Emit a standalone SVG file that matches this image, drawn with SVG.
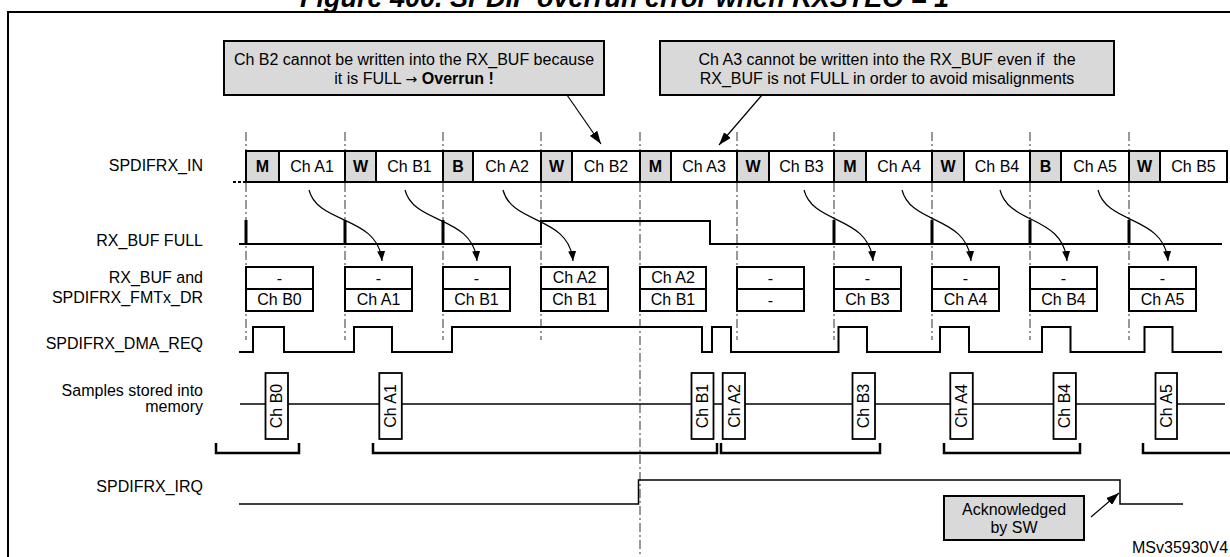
<svg xmlns="http://www.w3.org/2000/svg" width="1230" height="557" viewBox="0 0 1230 557">
<style>
text{font-family:"Liberation Sans",Arial,sans-serif;font-size:16px;fill:#000}
.end{text-anchor:end}
.mid{text-anchor:middle}
.b{font-weight:bold}
.cell{fill:#fff;stroke:#000;stroke-width:2}
.pre{fill:#d9d9d9;stroke:#000;stroke-width:2}
.sig{fill:none;stroke:#000;stroke-width:2}
.thin{fill:none;stroke:#000;stroke-width:1.5}
.spike{stroke:#000;stroke-width:3}
.dash{stroke:#555;stroke-width:1.2;stroke-dasharray:9 3 2 3;fill:none}
.call{fill:#d9d9d9;stroke:#000;stroke-width:2}
.arr{fill:none;stroke:#000;stroke-width:1.2}
.brk{fill:none;stroke:#000;stroke-width:2.5}
.sbox{fill:#fff;stroke:#000;stroke-width:1.8}
</style>
<defs>
<marker id="ah" viewBox="0 0 10 8" refX="10" refY="4" markerWidth="10" markerHeight="8" orient="auto" markerUnits="userSpaceOnUse"><path d="M0,0 L10,4 L0,8 z" fill="#000"/></marker>
<marker id="ahL" viewBox="0 0 13 9" refX="13" refY="4.5" markerWidth="13" markerHeight="9" orient="auto" markerUnits="userSpaceOnUse"><path d="M0,0 L13,4.5 L0,9 z" fill="#000"/></marker>
</defs>
<rect width="1230" height="557" fill="#fff"/>
<text x="300" y="7" style="font-size:27px;font-weight:bold;font-style:italic">Figure 400. SPDIF overrun error when RXSTEO = 1</text>
<path d="M8,560 V12 H1232" fill="none" stroke="#000" stroke-width="2"/>

<g id="gridlines">
<path class="dash" d="M246,132 V340 M345,132 V340 M443,132 V340 M541,132 V340 M737,132 V340 M834,132 V340 M932,132 V340 M1030,132 V340 M1129,132 V340 M640,132 V557"/>
</g>

<g id="labels">
<text class="end" x="203" y="171">SPDIFRX_IN</text>
<text class="end" x="203" y="246">RX_BUF FULL</text>
<text class="end" x="203" y="283">RX_BUF and</text>
<text class="end" x="203" y="303">SPDIFRX_FMTx_DR</text>
<text class="end" x="203" y="349">SPDIFRX_DMA_REQ</text>
<text class="end" x="203" y="396">Samples stored into</text>
<text class="end" x="203" y="412">memory</text>
<text class="end" x="203" y="492">SPDIFRX_IRQ</text>
</g>

<g id="spdifrx_in">
<line x1="233" y1="182" x2="246" y2="182" stroke="#000" stroke-width="2" stroke-dasharray="3 2"/>
<rect class="pre" x="246" y="151" width="33" height="31"/><text class="mid b" x="262.5" y="172">M</text>
<rect class="cell" x="279" y="151" width="66" height="31"/><text class="mid" x="312" y="172">Ch A1</text>
<rect class="pre" x="345" y="151" width="31" height="31"/><text class="mid b" x="360.5" y="172">W</text>
<rect class="cell" x="376" y="151" width="67" height="31"/><text class="mid" x="409.5" y="172">Ch B1</text>
<rect class="pre" x="443" y="151" width="30" height="31"/><text class="mid b" x="458" y="172">B</text>
<rect class="cell" x="473" y="151" width="68" height="31"/><text class="mid" x="507" y="172">Ch A2</text>
<rect class="pre" x="541" y="151" width="31" height="31"/><text class="mid b" x="556.5" y="172">W</text>
<rect class="cell" x="572" y="151" width="68" height="31"/><text class="mid" x="606" y="172">Ch B2</text>
<rect class="pre" x="640" y="151" width="31" height="31"/><text class="mid b" x="655.5" y="172">M</text>
<rect class="cell" x="671" y="151" width="66" height="31"/><text class="mid" x="704" y="172">Ch A3</text>
<rect class="pre" x="737" y="151" width="32" height="31"/><text class="mid b" x="753" y="172">W</text>
<rect class="cell" x="769" y="151" width="65" height="31"/><text class="mid" x="801.5" y="172">Ch B3</text>
<rect class="pre" x="834" y="151" width="32" height="31"/><text class="mid b" x="850" y="172">M</text>
<rect class="cell" x="866" y="151" width="66" height="31"/><text class="mid" x="899" y="172">Ch A4</text>
<rect class="pre" x="932" y="151" width="32" height="31"/><text class="mid b" x="948" y="172">W</text>
<rect class="cell" x="964" y="151" width="66" height="31"/><text class="mid" x="997" y="172">Ch B4</text>
<rect class="pre" x="1030" y="151" width="31" height="31"/><text class="mid b" x="1045.5" y="172">B</text>
<rect class="cell" x="1061" y="151" width="68" height="31"/><text class="mid" x="1095" y="172">Ch A5</text>
<rect class="pre" x="1129" y="151" width="31" height="31"/><text class="mid b" x="1144.5" y="172">W</text>
<rect class="cell" x="1160" y="151" width="67" height="31"/><text class="mid" x="1193.5" y="172">Ch B5</text>
</g>

<g id="rx_buf_full">
<path class="sig" d="M239,244 H541 V221 H710 V244 H1222"/>
<path class="spike" d="M246,244 V220 M345,244 V220 M443,244 V220 M834,244 V220 M932,244 V220 M1030,244 V220 M1129,244 V220"/>
</g>

<g id="rx_buf">
<g><rect class="cell" x="246" y="267" width="67" height="44"/><line x1="246" y1="289" x2="313" y2="289" stroke="#000" stroke-width="2"/><text class="mid" x="279.5" y="284">-</text><text class="mid" x="279.5" y="305">Ch B0</text></g>
<g><rect class="cell" x="345" y="267" width="67" height="44"/><line x1="345" y1="289" x2="412" y2="289" stroke="#000" stroke-width="2"/><text class="mid" x="378.5" y="284">-</text><text class="mid" x="378.5" y="305">Ch A1</text></g>
<g><rect class="cell" x="443" y="267" width="67" height="44"/><line x1="443" y1="289" x2="510" y2="289" stroke="#000" stroke-width="2"/><text class="mid" x="476.5" y="284">-</text><text class="mid" x="476.5" y="305">Ch B1</text></g>
<g><rect class="cell" x="541" y="267" width="67" height="44"/><line x1="541" y1="289" x2="608" y2="289" stroke="#000" stroke-width="2"/><text class="mid" x="574.5" y="283">Ch A2</text><text class="mid" x="574.5" y="305">Ch B1</text></g>
<g><rect class="cell" x="640" y="267" width="66" height="44"/><line x1="640" y1="289" x2="706" y2="289" stroke="#000" stroke-width="2"/><text class="mid" x="673" y="283">Ch A2</text><text class="mid" x="673" y="305">Ch B1</text></g>
<g><rect class="cell" x="737" y="267" width="67" height="44"/><line x1="737" y1="289" x2="804" y2="289" stroke="#000" stroke-width="2"/><text class="mid" x="770.5" y="284">-</text><text class="mid" x="770.5" y="306">-</text></g>
<g><rect class="cell" x="834" y="267" width="67" height="44"/><line x1="834" y1="289" x2="901" y2="289" stroke="#000" stroke-width="2"/><text class="mid" x="867.5" y="284">-</text><text class="mid" x="867.5" y="305">Ch B3</text></g>
<g><rect class="cell" x="932" y="267" width="67" height="44"/><line x1="932" y1="289" x2="999" y2="289" stroke="#000" stroke-width="2"/><text class="mid" x="965.5" y="284">-</text><text class="mid" x="965.5" y="305">Ch A4</text></g>
<g><rect class="cell" x="1030" y="267" width="67" height="44"/><line x1="1030" y1="289" x2="1097" y2="289" stroke="#000" stroke-width="2"/><text class="mid" x="1063.5" y="284">-</text><text class="mid" x="1063.5" y="305">Ch B4</text></g>
<g><rect class="cell" x="1129" y="267" width="67" height="44"/><line x1="1129" y1="289" x2="1196" y2="289" stroke="#000" stroke-width="2"/><text class="mid" x="1162.5" y="284">-</text><text class="mid" x="1162.5" y="305">Ch A5</text></g>
</g>

<g id="dma_req">
<path class="sig" d="M239,352 H253 V327 H284 V352 H354 V327 H392 V352 H452 V327 H702 V352 H712 V327 H731 V352 H838.5 V327 H867 V352 H940 V327 H969 V352 H1042 V327 H1070.5 V352 H1144.5 V327 H1172.5 V352 H1222"/>
</g>

<g id="samples">
<line x1="240" y1="404" x2="1225" y2="404" stroke="#000" stroke-width="1.5"/>
<rect class="sbox" x="265.5" y="373" width="22.5" height="66"/><text class="mid" transform="translate(276.7,406) rotate(-90)" x="0" y="5.7">Ch B0</text>
<rect class="sbox" x="379.3" y="373" width="22.5" height="66"/><text class="mid" transform="translate(390.5,406) rotate(-90)" x="0" y="5.7">Ch A1</text>
<rect class="sbox" x="691.5" y="373" width="22" height="66"/><text class="mid" transform="translate(702.5,406) rotate(-90)" x="0" y="5.7">Ch B1</text>
<rect class="sbox" x="722.7" y="373" width="22.3" height="66"/><text class="mid" transform="translate(733.8,406) rotate(-90)" x="0" y="5.7">Ch A2</text>
<rect class="sbox" x="852.5" y="373" width="22.5" height="66"/><text class="mid" transform="translate(863.7,406) rotate(-90)" x="0" y="5.7">Ch B3</text>
<rect class="sbox" x="950.3" y="373" width="22.5" height="66"/><text class="mid" transform="translate(961.5,406) rotate(-90)" x="0" y="5.7">Ch A4</text>
<rect class="sbox" x="1053.5" y="373" width="22.4" height="66"/><text class="mid" transform="translate(1064.7,406) rotate(-90)" x="0" y="5.7">Ch B4</text>
<rect class="sbox" x="1155.5" y="373" width="21.5" height="66"/><text class="mid" transform="translate(1166.2,406) rotate(-90)" x="0" y="5.7">Ch A5</text>
<path class="brk" d="M216,443 V453 H299 V443 M373,443 V453 H717 V443 M721,443 V453 H880 V443 M944,443 V453 H1080 V443 M1143,443 V453 H1232"/>
</g>

<g id="irq">
<path class="thin" d="M239,504 H638.5 V480 H1120 V504 H1183"/>
</g>

<g id="callout1">
<rect class="call" x="224" y="41" width="380" height="54"/>
<text class="mid" x="414" y="64.5">Ch B2 cannot be written into the RX_BUF because</text>
<text class="mid" x="414" y="84">it is FULL <tspan style="font-family:'DejaVu Sans',sans-serif;font-size:14px">→</tspan> <tspan class="b">Overrun !</tspan></text>
</g>
<g id="callout2">
<rect class="call" x="660" y="41" width="454" height="54"/>
<text class="mid" x="887" y="64.5" xml:space="preserve">Ch A3 cannot be written into the RX_BUF even if  the</text>
<text class="mid" x="887" y="84">RX_BUF is not FULL in order to avoid misalignments</text>
</g>
<g id="ack">
<rect class="call" x="944" y="496" width="140" height="44"/>
<text class="mid" x="1014" y="515">Acknowledged</text>
<text class="mid" x="1014" y="533">by SW</text>
</g>

<g id="connectors">
<path class="arr" marker-end="url(#ah)" d="M309,190 C318,225 378,215 382,261"/>
<path class="arr" marker-end="url(#ah)" d="M405,190 C414,225 473,215 477,261"/>
<path class="arr" marker-end="url(#ah)" d="M503,190 C512,225 569,215 573,261"/>
<path class="arr" marker-end="url(#ah)" d="M804,190 C813,225 869,215 873,261"/>
<path class="arr" marker-end="url(#ah)" d="M902,190 C911,225 967,215 971,261"/>
<path class="arr" marker-end="url(#ah)" d="M1000,190 C1009,225 1063,215 1067,261"/>
<path class="arr" marker-end="url(#ah)" d="M1098,190 C1107,225 1164,215 1168,261"/>
<line class="arr" marker-end="url(#ahL)" x1="567" y1="95" x2="601" y2="144"/>
<line class="arr" marker-end="url(#ahL)" x1="762" y1="95" x2="719" y2="145"/>
<line class="arr" marker-end="url(#ahL)" x1="1091" y1="517" x2="1119" y2="493"/>
</g>

<text x="1132" y="553">MSv35930V4</text>
</svg>
